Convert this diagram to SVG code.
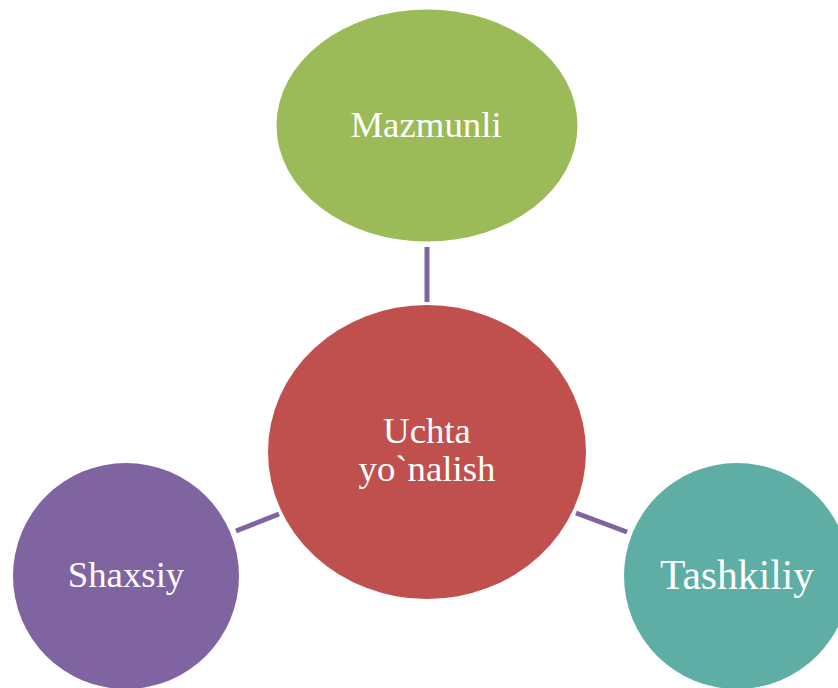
<svg xmlns="http://www.w3.org/2000/svg" width="838" height="688" viewBox="0 0 838 688">
<style>
.lbl{font-family:"Liberation Serif","Times New Roman",serif;fill:#ffffff;text-anchor:middle;}
.con{stroke:#8064A2;stroke-width:5;fill:none;}
</style>
<rect width="838" height="688" fill="#ffffff"/>
<g id="connectors">
<line class="con" x1="427" y1="247" x2="427" y2="302"/>
<line class="con" x1="236" y1="531" x2="279" y2="514"/>
<line class="con" x1="576" y1="513" x2="627" y2="532"/>
</g>
<g id="node-mazmunli">
<ellipse cx="427" cy="125.5" rx="150.5" ry="116" fill="#9BBB59"/>
<text class="lbl" x="426" y="137" font-size="36.8">Mazmunli</text>
</g>
<g id="node-center">
<ellipse cx="427" cy="452" rx="159" ry="147" fill="#C0504D"/>
<text class="lbl" x="427" y="443" font-size="36.8">Uchta</text>
<text class="lbl" x="427" y="481" font-size="36.8">yo`nalish</text>
</g>
<g id="node-shaxsiy">
<circle cx="126" cy="576" r="113" fill="#8064A2"/>
<text class="lbl" x="126" y="587" font-size="36.8">Shaxsiy</text>
</g>
<g id="node-tashkiliy">
<circle cx="737" cy="576" r="113" fill="#5EAEA5"/>
<text class="lbl" x="737" y="589" font-size="41.6">Tashkiliy</text>
</g>
</svg>
